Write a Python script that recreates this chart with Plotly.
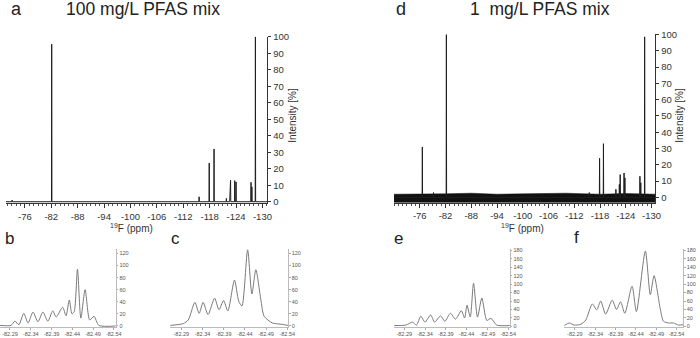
import plotly.graph_objects as go

# ---------------- data ----------------
# Panel a: 100 mg/L PFAS mix, 19F spectrum (peak positions ppm, intensity %)
a_peak_ppm = [-73.1, -82.1, -115.6, -117.9, -119.0, -121.8, -122.6, -122.75, -123.7, -124.0, -127.4, -127.6, -128.4]
a_peak_int = [1, 95.5, 3, 23.5, 32, 2, 6, 13, 12.8, 12, 11.8, 9, 100]

# Panel d: 1 mg/L PFAS mix
d_peak_ppm = [-76.6, -79.2, -82.2, -115.5, -117.9, -118.8, -121.7, -122.5, -122.7, -123.6, -123.8, -127.3, -127.5, -128.4]
d_peak_int = [31, 3, 100, 3, 24, 33, 5, 8, 14, 15, 12, 13, 9, 98.5]
noise_ppm = [-70.0, -76.0, -82.0, -88.0, -94.0, -100.0, -106.0, -110.0, -118.0, -124.0, -130.9]
noise_hi = [2.0, 2.0, 2.2, 2.6, 2.0, 2.2, 2.4, 2.6, 2.0, 2.4, 2.0]
noise_lo = [-3.0, -3.0, -3.0, -3.1, -3.0, -3.0, -3.1, -3.0, -3.0, -3.0, -3.0]

# Panels b, c, e, f: zoom of the -82.3 to -82.5 ppm multiplet
b_ppm = [-82.2662, -82.2924, -82.3019, -82.3114, -82.3233, -82.3336, -82.3455, -82.3574, -82.3693,
         -82.3812, -82.3931, -82.4012, -82.4169, -82.4250, -82.4329, -82.4393, -82.4448, -82.4526,
         -82.4607, -82.4710, -82.4821, -82.4924, -82.5043, -82.5448]
b_int = [1, 1, 8, 2, 21, 5, 23, 7, 23, 8, 25, 15, 31, 17, 43, 20, 24, 94, 13, 60, 10, 16, 1, 0]

c_ppm = [-82.2636, -82.2947, -82.3064, -82.3220, -82.3321, -82.3414, -82.3531, -82.3687, -82.3788,
         -82.3898, -82.3998, -82.4155, -82.4255, -82.4332, -82.4465, -82.4566, -82.4659, -82.4776,
         -82.4856, -82.5050, -82.5250, -82.5423]
c_int = [1, 4, 10, 39, 21, 39, 19, 46, 27, 42, 25, 76, 41, 33, 126, 53, 93, 44, 16, 5, 3, 1]

e_ppm = [-82.2662, -82.2940, -82.3100, -82.3195, -82.3298, -82.3400, -82.3536, -82.3631, -82.3774,
         -82.3876, -82.4012, -82.4131, -82.4274, -82.4352, -82.4410, -82.4488, -82.4567, -82.4662,
         -82.4767, -82.4886, -82.4988, -82.5124, -82.5440]
e_int = [2, 3, 10, 3, 24, 10, 27, 10, 25, 12, 31, 17, 37, 20, 50, 22, 102, 22, 67, 14, 19, 3, 2]

f_ppm = [-82.2639, -82.2761, -82.2883, -82.3046, -82.3168, -82.3329, -82.3437, -82.3534, -82.3656,
         -82.3817, -82.3924, -82.4022, -82.4127, -82.4305, -82.4412, -82.4632, -82.4754, -82.4846,
         -82.4998, -82.5078, -82.5200, -82.5322, -82.5444, -82.5566]
f_int = [2, 8, 3, 5, 15, 53, 39, 60, 29, 62, 40, 58, 31, 95, 35, 178, 75, 120, 42, 12, 8, 8, 3, 4]

main_ticks = [-76, -82, -88, -94, -100, -106, -112, -118, -124, -130]
main_ticklabels = ["-76", "-82", "-88", "-94", "-100", "-106", "-112", "-118", "-124", "-130"]
zoom_ticks = [-82.29, -82.34, -82.39, -82.44, -82.49, -82.54]
zoom_ticklabels = ["-82.29", "-82.34", "-82.39", "-82.44", "-82.49", "-82.54"]
int_ticks = list(range(0, 101, 10))
bc_ticks = list(range(0, 121, 20))
ef_ticks = list(range(0, 181, 20))

# ---------------- helpers ----------------
W, H = 700, 338
def px(x):
    return x / W
def py(y):
    return 1 - y / H

def stick_trace(ppm, inten, left, right, w=0.05):
    pairs = sorted(zip(ppm, inten), key=lambda t: -t[0])
    xs, ys = [left], [0]
    for p, h in pairs:
        xs += [p + w, p, p - w]
        ys += [0, h, 0]
    xs.append(right)
    ys.append(0)
    return xs, ys

FONT = "Liberation Sans, Arial, sans-serif"
fig = go.Figure()

a_range = [-71.7, -131.1]
d_range = [-70.0, -130.9]

# panel a
xa, ya = stick_trace(a_peak_ppm, a_peak_int, a_range[0], a_range[1])
fig.add_trace(go.Scatter(x=xa, y=ya, mode="lines", line=dict(color="#1e1e1e", width=1),
                         xaxis="x", yaxis="y", showlegend=False, hoverinfo="skip"))

# panel d: noise band then peaks
fig.add_trace(go.Scatter(x=noise_ppm, y=noise_lo, mode="lines", line=dict(color="#111", width=0.5),
                         xaxis="x2", yaxis="y2", showlegend=False, hoverinfo="skip"))
fig.add_trace(go.Scatter(x=noise_ppm, y=noise_hi, mode="lines", line=dict(color="#111", width=0.5),
                         fill="tonexty", fillcolor="#111",
                         xaxis="x2", yaxis="y2", showlegend=False, hoverinfo="skip"))
xd, yd = stick_trace(d_peak_ppm, d_peak_int, d_range[0], d_range[1])
fig.add_trace(go.Scatter(x=xd, y=yd, mode="lines", line=dict(color="#1e1e1e", width=1),
                         xaxis="x2", yaxis="y2", showlegend=False, hoverinfo="skip"))

# zoom panels
for i, (xx, yy) in enumerate([(b_ppm, b_int), (c_ppm, c_int), (e_ppm, e_int), (f_ppm, f_int)]):
    n = i + 3
    fig.add_trace(go.Scatter(x=xx, y=yy, mode="lines",
                             line=dict(color="#7a7a7a", width=1, shape="spline", smoothing=0.7),
                             xaxis=f"x{n}", yaxis=f"y{n}", showlegend=False, hoverinfo="skip"))

main_x = dict(showgrid=False, zeroline=False, showline=True, linecolor="#333", linewidth=1,
              ticks="outside", ticklen=4, tickcolor="#333", tickvals=main_ticks, ticktext=main_ticklabels,
              tickfont=dict(size=9.5, color="#333", family=FONT),
              minor=dict(ticks="outside", ticklen=2, dtick=1, tickcolor="#555"))
main_y = dict(showgrid=False, zeroline=False, showline=True, linecolor="#333", linewidth=1,
              side="right", ticks="outside", ticklen=3, tickcolor="#333", tickvals=int_ticks,
              tickfont=dict(size=9.5, color="#333", family=FONT))
zoom_x = dict(showgrid=False, zeroline=False, showline=True, linecolor="#bbb", linewidth=1,
              ticks="outside", ticklen=1.5, tickcolor="#aaa", tickvals=zoom_ticks, ticktext=zoom_ticklabels,
              tickfont=dict(size=5.5, color="#555", family=FONT))
zoom_y = dict(showgrid=False, zeroline=False, showline=True, linecolor="#bbb", linewidth=1,
              side="right", ticks="outside", ticklen=1.5, tickcolor="#aaa",
              tickfont=dict(size=5.5, color="#555", family=FONT))

ybot, ytop = 331, 250
fig.update_layout(
    width=W, height=H, margin=dict(l=0, r=0, t=0, b=0),
    paper_bgcolor="white", plot_bgcolor="white", showlegend=False,
    xaxis=dict(main_x, domain=[px(6), px(270)], range=a_range, anchor="y"),
    yaxis=dict(main_y, domain=[py(203.3), py(31.7)], range=[-0.94, 100], anchor="x"),
    xaxis2=dict(main_x, domain=[px(398), px(662)], range=d_range, anchor="y2"),
    yaxis2=dict(main_y, domain=[py(203), py(29.3)], range=[-3.4, 100], anchor="x2"),
    xaxis3=dict(zoom_x, domain=[px(0), px(117)], range=[-82.266, -82.545], anchor="y3"),
    yaxis3=dict(zoom_y, domain=[py(ybot), py(ytop)], range=[-2, 128], tickvals=bc_ticks, anchor="x3"),
    xaxis4=dict(zoom_x, domain=[px(172), px(291)], range=[-82.264, -82.542], anchor="y4"),
    yaxis4=dict(zoom_y, domain=[py(ybot), py(ytop)], range=[-2, 128], tickvals=bc_ticks, anchor="x4"),
    xaxis5=dict(zoom_x, domain=[px(398), px(515)], range=[-82.2655, -82.544], anchor="y5"),
    yaxis5=dict(zoom_y, domain=[py(ybot), py(ytop)], range=[-2, 184], tickvals=ef_ticks, anchor="x5"),
    xaxis6=dict(zoom_x, domain=[px(570), px(690)], range=[-82.264, -82.556], anchor="y6"),
    yaxis6=dict(zoom_y, domain=[py(ybot), py(ytop)], range=[-2, 184], tickvals=ef_ticks, anchor="x6"),
)

def ann(text, x, y, size, color="#222", angle=0, xanchor="center"):
    fig.add_annotation(text=text, x=px(x), y=py(y), xref="paper", yref="paper", showarrow=False,
                       xanchor=xanchor, yanchor="middle", textangle=angle,
                       font=dict(size=size, color=color, family=FONT))

ann("a", 17, 3, 18)
ann("100 mg/L PFAS mix", 144, 3, 17.5)
ann("d", 405, 3, 18)
ann("1  mg/L PFAS mix", 545, 3, 17.5)
ann("<sup>19</sup>F (ppm)", 133, 229, 10, "#333")
ann("<sup>19</sup>F (ppm)", 528, 229, 10, "#333")
ann("Intensity [%]", 296, 113, 10, "#333", angle=-90)
ann("Intensity [%]", 687, 113, 10, "#333", angle=-90)
ann("b", 10, 240, 17)
ann("c", 177, 240, 17)
ann("e", 403, 240, 17)
ann("f", 582, 239, 17)

fig.write_html("out.html")
